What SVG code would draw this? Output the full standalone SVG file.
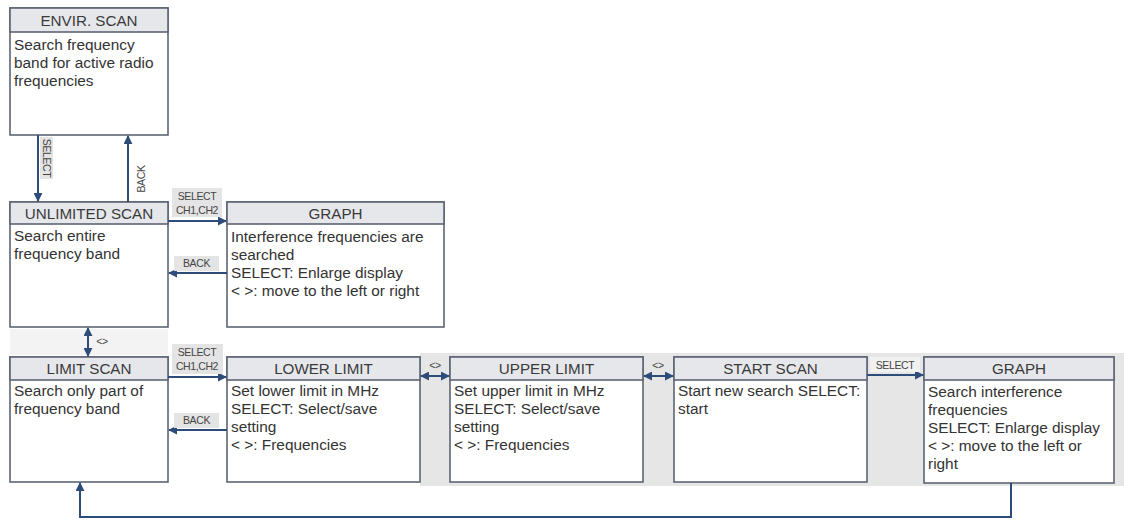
<svg xmlns="http://www.w3.org/2000/svg" width="1124" height="523" viewBox="0 0 1124 523">
<style>
.box{fill:#ffffff;stroke:#5d6474;stroke-width:1.6}
.hdr{fill:#e6e7eb;stroke:#5d6474;stroke-width:1.6}
.ht{font-family:"Liberation Sans",Arial,sans-serif;font-size:15.2px;fill:#3a3a3a;text-anchor:middle}
.bt{font-family:"Liberation Sans",Arial,sans-serif;font-size:15.4px;fill:#333333}
.lbl{font-family:"Liberation Sans",Arial,sans-serif;font-size:10.5px;fill:#444;text-anchor:middle;letter-spacing:-0.4px}
.lbg{fill:#e4e4e4}
.arr{fill:none;stroke:#2e4c7a;stroke-width:2}
</style>
<defs>
<marker id="ah" viewBox="0 0 10 10" refX="9" refY="5" markerWidth="4.5" markerHeight="4.5" orient="auto-start-reverse">
<path d="M0,0 L10,5 L0,10 z" fill="#2e4c7a"/>
</marker>
</defs>
<rect width="1124" height="523" fill="#ffffff"/>
<rect x="420" y="353" width="704" height="133" fill="#e6e6e6"/>
<rect x="10" y="329" width="158" height="26" fill="#f3f3f3"/>

<g id="envir-scan">
<rect class="box" x="10" y="8" width="158" height="127"/>
<rect class="hdr" x="10" y="8" width="158" height="24"/>
<text class="ht" x="89" y="26">ENVIR. SCAN</text>
<text class="bt" x="14" y="50">Search frequency</text>
<text class="bt" x="14" y="68">band for active radio</text>
<text class="bt" x="14" y="86">frequencies</text>
</g>

<g id="unlimited-scan">
<rect class="box" x="10" y="202" width="158" height="125"/>
<rect class="hdr" x="10" y="202" width="158" height="22"/>
<text class="ht" x="89" y="219">UNLIMITED SCAN</text>
<text class="bt" x="14" y="241">Search entire</text>
<text class="bt" x="14" y="259">frequency band</text>
</g>

<g id="graph-1">
<rect class="box" x="227" y="202" width="217" height="125"/>
<rect class="hdr" x="227" y="202" width="217" height="22"/>
<text class="ht" x="335.5" y="219">GRAPH</text>
<text class="bt" x="231" y="242">Interference frequencies are</text>
<text class="bt" x="231" y="260">searched</text>
<text class="bt" x="231" y="278">SELECT: Enlarge display</text>
<text class="bt" x="231" y="296">&lt; &gt;: move to the left or right</text>
</g>

<g id="limit-scan">
<rect class="box" x="10" y="357" width="158" height="125"/>
<rect class="hdr" x="10" y="357" width="158" height="23"/>
<text class="ht" x="89" y="374">LIMIT SCAN</text>
<text class="bt" x="14" y="396">Search only part of</text>
<text class="bt" x="14" y="414">frequency band</text>
</g>

<g id="lower-limit">
<rect class="box" x="227" y="357" width="193" height="125"/>
<rect class="hdr" x="227" y="357" width="193" height="23"/>
<text class="ht" x="323.5" y="374">LOWER LIMIT</text>
<text class="bt" x="231" y="396">Set lower limit in MHz</text>
<text class="bt" x="231" y="414">SELECT: Select/save</text>
<text class="bt" x="231" y="432">setting</text>
<text class="bt" x="231" y="450">&lt; &gt;: Frequencies</text>
</g>

<g id="upper-limit">
<rect class="box" x="450" y="357" width="193" height="125"/>
<rect class="hdr" x="450" y="357" width="193" height="23"/>
<text class="ht" x="546.5" y="374">UPPER LIMIT</text>
<text class="bt" x="454" y="396">Set upper limit in MHz</text>
<text class="bt" x="454" y="414">SELECT: Select/save</text>
<text class="bt" x="454" y="432">setting</text>
<text class="bt" x="454" y="450">&lt; &gt;: Frequencies</text>
</g>

<g id="start-scan">
<rect class="box" x="674" y="357" width="193" height="125"/>
<rect class="hdr" x="674" y="357" width="193" height="23"/>
<text class="ht" x="770.5" y="374">START SCAN</text>
<text class="bt" x="678" y="396">Start new search SELECT:</text>
<text class="bt" x="678" y="414">start</text>
</g>

<g id="graph-2">
<rect class="box" x="924" y="357" width="190" height="126"/>
<rect class="hdr" x="924" y="357" width="190" height="23"/>
<text class="ht" x="1019" y="374">GRAPH</text>
<text class="bt" x="928" y="397">Search interference</text>
<text class="bt" x="928" y="415">frequencies</text>
<text class="bt" x="928" y="433">SELECT: Enlarge display</text>
<text class="bt" x="928" y="451">&lt; &gt;: move to the left or</text>
<text class="bt" x="928" y="469">right</text>
</g>

<g id="connectors">
<path class="arr" d="M38,135 V201" marker-end="url(#ah)"/>
<path class="arr" d="M128,202 V136" marker-end="url(#ah)"/>
<path class="arr" d="M168,221 H226" marker-end="url(#ah)"/>
<path class="arr" d="M227,273 H169" marker-end="url(#ah)"/>
<path class="arr" d="M88,328 V356" marker-start="url(#ah)" marker-end="url(#ah)"/>
<path class="arr" d="M168,377 H226" marker-end="url(#ah)"/>
<path class="arr" d="M227,430 H169" marker-end="url(#ah)"/>
<path class="arr" d="M421,376 H449" marker-start="url(#ah)" marker-end="url(#ah)"/>
<path class="arr" d="M644,376 H673" marker-start="url(#ah)" marker-end="url(#ah)"/>
<path class="arr" d="M867,375 H923" marker-end="url(#ah)"/>
<path class="arr" d="M1011,483 V517 H80 V483" marker-end="url(#ah)"/>

<rect class="lbg" x="40" y="137" width="13" height="42"/>
<text class="lbl" transform="translate(43,158) rotate(90)">SELECT</text>
<text class="lbl" transform="translate(145,179) rotate(-90)">BACK</text>

<rect class="lbg" x="172" y="188" width="50" height="29"/>
<text class="lbl" x="197" y="200">SELECT</text>
<text class="lbl" x="197" y="214">CH1,CH2</text>
<rect class="lbg" x="174" y="256" width="45" height="15"/>
<text class="lbl" x="196.5" y="267">BACK</text>

<text class="lbl" x="102" y="345">&lt;&gt;</text>

<rect class="lbg" x="172" y="344" width="51" height="30"/>
<text class="lbl" x="197" y="356">SELECT</text>
<text class="lbl" x="197" y="370">CH1,CH2</text>
<rect class="lbg" x="174" y="413" width="45" height="15"/>
<text class="lbl" x="196.5" y="424">BACK</text>

<text class="lbl" x="435" y="369">&lt;&gt;</text>
<text class="lbl" x="658" y="369">&lt;&gt;</text>
<rect x="870" y="357" width="50" height="15" fill="#f1f1f1"/>
<text class="lbl" x="895" y="369">SELECT</text>
</g>
</svg>
